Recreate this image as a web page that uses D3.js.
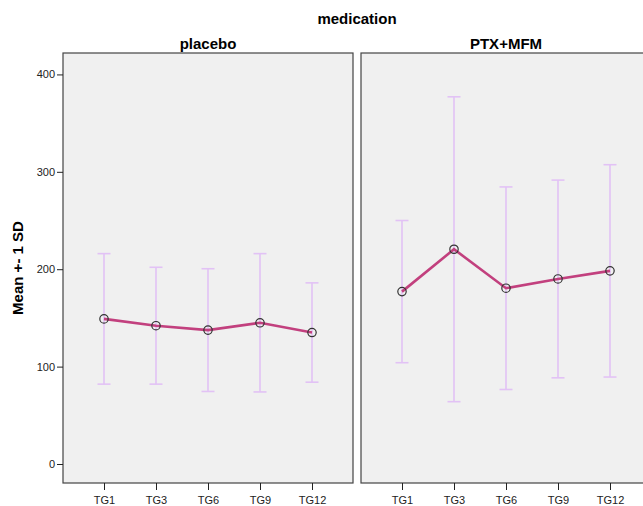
<!DOCTYPE html>
<html><head><meta charset="utf-8">
<script src="https://cdn.jsdelivr.net/npm/d3@7"></script>
<style>body{margin:0;background:#fff;} svg{display:block;font-family:"Liberation Sans",Arial,sans-serif;}</style>
</head><body>
<svg id="c" width="643" height="506"></svg>
<script>
const categories = ["TG1","TG3","TG6","TG9","TG12"];
const groups = ["placebo","PTX+MFM"];
const placeboMean = [149, 142, 137.5, 145, 135];
const placeboSD   = [67, 60, 63, 71, 51];
const ptxMean = [177, 220.5, 180.5, 190, 198.3];
const ptxSD   = [73, 156.5, 104, 101.5, 109];
const yTicks = [0,100,200,300,400];

(function(){
const panels = [
  {name: groups[0], mean: placeboMean, sd: placeboSD},
  {name: groups[1], mean: ptxMean, sd: ptxSD}
];

const svg = d3.select("#c");
const pTop = 53, pBottom = 483, panelW = 290, gap = 8, left0 = 63;
const y = d3.scaleLinear().domain([-19.5, 422]).range([pBottom, pTop]);
const x = d3.scalePoint().domain(categories).range([41, 249]);

svg.append("text").attr("x", left0 + panelW + gap/2).attr("y", 24)
  .attr("text-anchor","middle").attr("font-weight","bold").attr("font-size",15).text("medication");

svg.append("text").attr("transform",`translate(23,${(pTop+pBottom)/2}) rotate(-90)`)
  .attr("text-anchor","middle").attr("font-weight","bold").attr("font-size",15).text("Mean +- 1 SD");

panels.forEach((p,i)=>{
  const ox = left0 + i*(panelW+gap);
  const g = svg.append("g").attr("transform",`translate(${ox},0)`);
  g.append("rect").attr("x",0).attr("y",pTop).attr("width",panelW).attr("height",pBottom-pTop)
    .attr("fill","#f0f0f0").attr("stroke","#444").attr("stroke-width",1.2);
  g.append("text").attr("x",panelW/2).attr("y",pTop-4).attr("text-anchor","middle")
    .attr("font-weight","bold").attr("font-size",15).text(p.name);
  if(i===0){
    const ya = g.append("g").call(d3.axisLeft(y).tickValues(yTicks).tickSize(6).tickPadding(2));
    ya.select(".domain").remove();
    ya.selectAll("line").attr("stroke","#222");
    ya.selectAll("text").attr("font-size",11).attr("fill","#222").attr("font-family","Liberation Sans, Arial, sans-serif");
  }
  const xa = g.append("g").attr("transform",`translate(0,${pBottom})`).call(d3.axisBottom(x).tickSize(7).tickPadding(6));
  xa.select(".domain").remove();
  xa.selectAll("line").attr("stroke","#222");
  xa.selectAll("text").attr("font-size",11).attr("fill","#222").attr("font-family","Liberation Sans, Arial, sans-serif");

  const data = categories.map((c,j)=>({c, m:p.mean[j], s:p.sd[j]}));
  const ebColor = "#e2c2f5";
  const eb = g.append("g").attr("stroke",ebColor).attr("stroke-width",1.6);
  data.forEach(d=>{
    const cx = x(d.c);
    eb.append("line").attr("x1",cx).attr("x2",cx).attr("y1",y(d.m+d.s)).attr("y2",y(d.m-d.s));
    eb.append("line").attr("x1",cx-6.5).attr("x2",cx+6.5).attr("y1",y(d.m+d.s)).attr("y2",y(d.m+d.s));
    eb.append("line").attr("x1",cx-6.5).attr("x2",cx+6.5).attr("y1",y(d.m-d.s)).attr("y2",y(d.m-d.s));
  });
  g.append("path").datum(data)
    .attr("d", d3.line().x(d=>x(d.c)).y(d=>y(d.m)))
    .attr("fill","none").attr("stroke","#c2407e").attr("stroke-width",2.6);
  g.selectAll("circle").data(data).enter().append("circle")
    .attr("cx",d=>x(d.c)).attr("cy",d=>y(d.m)).attr("r",4.2)
    .attr("fill","none").attr("stroke","#333").attr("stroke-width",1.2);
});
})();
</script>
</body></html>
